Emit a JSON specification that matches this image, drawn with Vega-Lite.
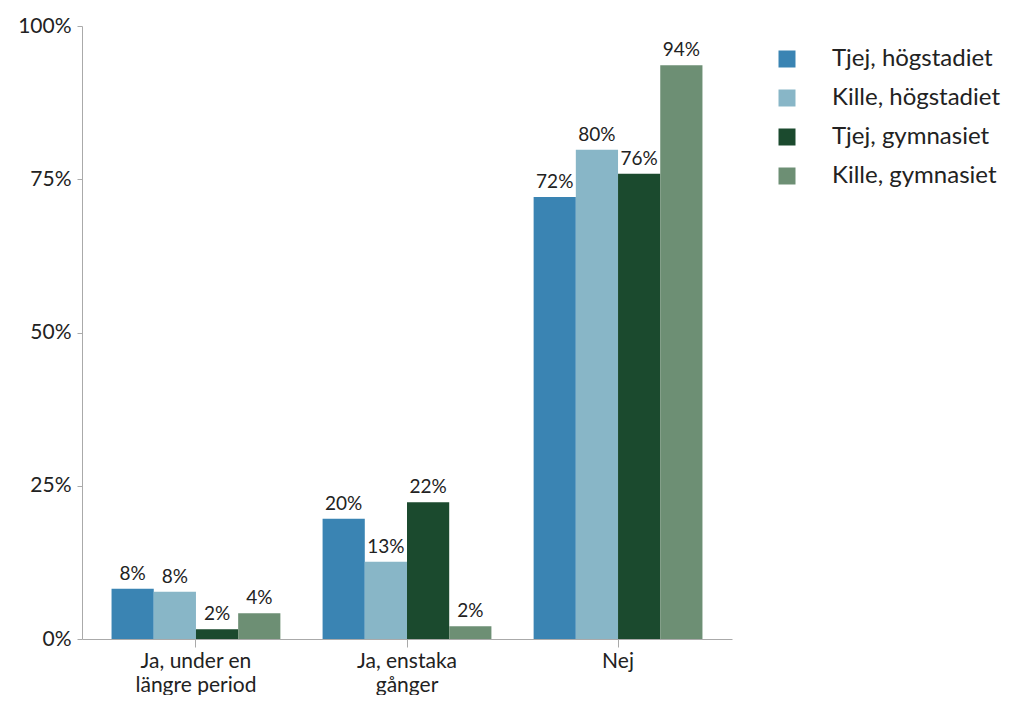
{
  "$schema": "https://vega.github.io/schema/vega-lite/v6.json",
  "width": 650,
  "height": 613,
  "padding": {"left": 17, "top": 15, "right": 5, "bottom": 0},
  "background": "white",
  "config": {
    "font": "Lato",
    "view": {"stroke": null},
    "axis": {"labelColor": "#222", "labelFontSize": 21, "domainColor": "#aaa", "tickColor": "#aaa", "grid": false, "titleColor": "#222"}
  },
  "data": {
    "values": [
      {"svar": "Ja, under en längre period", "grupp": "Tjej, högstadiet", "andel": 0.082},
      {"svar": "Ja, under en längre period", "grupp": "Kille, högstadiet", "andel": 0.077},
      {"svar": "Ja, under en längre period", "grupp": "Tjej, gymnasiet", "andel": 0.016},
      {"svar": "Ja, under en längre period", "grupp": "Kille, gymnasiet", "andel": 0.042},
      {"svar": "Ja, enstaka gånger", "grupp": "Tjej, högstadiet", "andel": 0.196},
      {"svar": "Ja, enstaka gånger", "grupp": "Kille, högstadiet", "andel": 0.126},
      {"svar": "Ja, enstaka gånger", "grupp": "Tjej, gymnasiet", "andel": 0.223},
      {"svar": "Ja, enstaka gånger", "grupp": "Kille, gymnasiet", "andel": 0.021},
      {"svar": "Nej", "grupp": "Tjej, högstadiet", "andel": 0.721},
      {"svar": "Nej", "grupp": "Kille, högstadiet", "andel": 0.798},
      {"svar": "Nej", "grupp": "Tjej, gymnasiet", "andel": 0.759},
      {"svar": "Nej", "grupp": "Kille, gymnasiet", "andel": 0.936}
    ]
  },
  "encoding": {
    "x": {
      "field": "svar", "type": "nominal", "sort": null, "title": null,
      "scale": {"paddingInner": 0.2, "paddingOuter": 0.14},
      "axis": {
        "labelAngle": 0, "labelPadding": 3, "labelLineHeight": 24, "tickSize": 8,
        "labelExpr": "datum.value == 'Ja, under en längre period' ? ['Ja, under en', 'längre period'] : datum.value == 'Ja, enstaka gånger' ? ['Ja, enstaka', 'gånger'] : datum.value"
      }
    },
    "xOffset": {"field": "grupp", "type": "nominal", "sort": ["Tjej, högstadiet", "Kille, högstadiet", "Tjej, gymnasiet", "Kille, gymnasiet"]},
    "y": {
      "field": "andel", "type": "quantitative", "title": null,
      "scale": {"domain": [0, 1], "nice": false},
      "axis": {"values": [0, 0.25, 0.5, 0.75, 1], "format": ".0%", "tickSize": 5, "labelPadding": 6}
    }
  },
  "layer": [
    {
      "mark": {"type": "bar"},
      "encoding": {
        "color": {
          "field": "grupp", "type": "nominal", "title": null,
          "sort": ["Tjej, högstadiet", "Kille, högstadiet", "Tjej, gymnasiet", "Kille, gymnasiet"],
          "scale": {"domain": ["Tjej, högstadiet", "Kille, högstadiet", "Tjej, gymnasiet", "Kille, gymnasiet"], "range": ["#3a84b3", "#88b6c7", "#1b4a2e", "#6d8f74"]},
          "legend": {
            "orient": "none", "legendX": 693, "legendY": 21,
            "symbolType": "square", "symbolSize": 289, "symbolStrokeWidth": 0,
            "labelFontSize": 24, "labelColor": "#222", "labelOffset": 33, "rowPadding": 15, "labelLimit": 400
          }
        }
      }
    },
    {
      "mark": {"type": "text", "baseline": "bottom", "dy": -5, "fontSize": 19, "color": "#222"},
      "encoding": {
        "text": {"field": "andel", "type": "quantitative", "format": ".0%"}
      }
    }
  ]
}
